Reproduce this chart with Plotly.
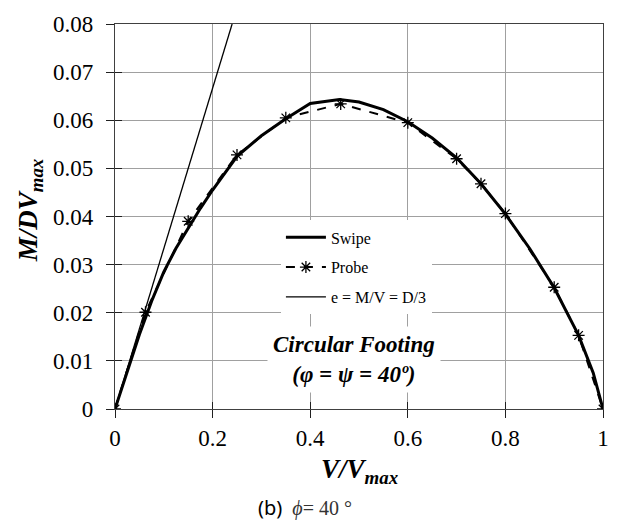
import plotly.graph_objects as go

# Swipe curve
swipe_x = [0, 0.025, 0.05, 0.075, 0.1, 0.125, 0.15, 0.175, 0.2, 0.25, 0.3, 0.35, 0.4,
           0.46, 0.5, 0.55, 0.6, 0.65, 0.7, 0.75, 0.8, 0.85, 0.9, 0.95, 0.98, 1.0]
swipe_y = [0, 0.0078, 0.0155, 0.0224, 0.0285, 0.0334, 0.0375, 0.0417, 0.0455, 0.0525,
           0.0568, 0.0603, 0.0635, 0.0643, 0.0638, 0.0622, 0.0597, 0.0563, 0.0522,
           0.0468, 0.0405, 0.0333, 0.0252, 0.0153, 0.0075, 0]

# Probe points
probe_x = [0, 0.0625, 0.15, 0.25, 0.35, 0.4625, 0.6, 0.7, 0.75, 0.8, 0.9, 0.95, 1.0]
probe_y = [0, 0.0201, 0.039, 0.0528, 0.0605, 0.0634, 0.0595, 0.052, 0.0468, 0.0406,
           0.0253, 0.0153, 0]

# e = M/V = D/3 line
ecc_x = [0, 0.24]
ecc_y = [0, 0.08]

x_ticks = [0, 0.2, 0.4, 0.6, 0.8, 1]
x_labels = ["0", "0.2", "0.4", "0.6", "0.8", "1"]
y_ticks = [0, 0.01, 0.02, 0.03, 0.04, 0.05, 0.06, 0.07, 0.08]
y_labels = ["0", "0.01", "0.02", "0.03", "0.04", "0.05", "0.06", "0.07", "0.08"]

SERIF = "Liberation Serif"

fig = go.Figure()
fig.add_trace(go.Scatter(x=swipe_x, y=swipe_y, mode="lines", name="Swipe",
                         legendgroup="a",
                         line=dict(color="black", width=3)))
fig.add_trace(go.Scatter(x=probe_x, y=probe_y, mode="lines+markers", name="Probe",
                         legendgroup="b",
                         line=dict(color="black", width=2, dash="dash"),
                         marker=dict(symbol="asterisk-open", size=10,
                                     line=dict(color="black", width=1.3))))
fig.add_trace(go.Scatter(x=ecc_x, y=ecc_y, mode="lines", name="e = M/V = D/3",
                         legendgroup="c",
                         line=dict(color="black", width=1.3)))

# overlay axes for inward tick halves
fig.add_trace(go.Scatter(x=[0], y=[0], xaxis="x2", yaxis="y2", mode="markers",
                         marker=dict(opacity=0), showlegend=False, hoverinfo="skip"))

fig.update_layout(
    width=621, height=527,
    margin=dict(l=115, r=16, t=23, b=118),
    paper_bgcolor="white", plot_bgcolor="white",
    font=dict(family=SERIF, color="black"),
    showlegend=True,
    legend=dict(x=0.34, y=0.49, xanchor="left", yanchor="top",
                bgcolor="white", font=dict(family=SERIF, size=16, color="black"),
                tracegroupgap=6, itemwidth=40),
    xaxis=dict(range=[0, 1], tickvals=x_ticks, ticktext=x_labels,
               showgrid=True, gridcolor="#a0a0a0", gridwidth=1,
               showline=True, linecolor="#404040", linewidth=1.2, mirror=True,
               ticks="outside", ticklen=8, tickcolor="#202020",
               tickfont=dict(family=SERIF, size=23, color="black"),
               zeroline=False, fixedrange=True),
    yaxis=dict(range=[0, 0.08], tickvals=y_ticks, ticktext=y_labels,
               showgrid=True, gridcolor="#a0a0a0", gridwidth=1,
               showline=True, linecolor="#404040", linewidth=1.2, mirror=True,
               ticks="outside", ticklen=8, tickcolor="#202020",
               ticklabelstandoff=8,
               tickfont=dict(family=SERIF, size=23, color="black"),
               zeroline=False, fixedrange=True),
    xaxis2=dict(range=[0, 1], overlaying="x", tickvals=x_ticks, showticklabels=False,
                showgrid=False, ticks="inside", ticklen=7, tickcolor="#202020",
                zeroline=False, showline=False),
    yaxis2=dict(range=[0, 0.08], overlaying="y", tickvals=y_ticks, showticklabels=False,
                showgrid=False, ticks="inside", ticklen=7, tickcolor="#202020",
                zeroline=False, showline=False),
)

fig.add_annotation(x=0.49, y=0.0103, xref="x", yref="y",
                   text="<b><i>Circular Footing<br>(φ = ψ = 40º)</i></b>",
                   showarrow=False, bgcolor="white",
                   font=dict(family=SERIF, size=23, color="black"), borderpad=5)

fig.add_annotation(x=0.5, y=-0.16, xref="paper", yref="paper",
                   xanchor="center", yanchor="middle",
                   text="<b><i>V/V<sub>max</sub></i></b>", showarrow=False,
                   font=dict(family=SERIF, size=27, color="black"))

fig.add_annotation(x=-0.175, y=0.515, xref="paper", yref="paper", textangle=-90,
                   xanchor="center", yanchor="middle",
                   text="<b><i>M/DV<sub>max</sub></i></b>", showarrow=False,
                   font=dict(family=SERIF, size=27, color="black"))

fig.add_annotation(x=0.39, y=-0.255, xref="paper", yref="paper",
                   xanchor="center", yanchor="middle",
                   text="<span style='font-family:Noto Sans;font-size:20px;fill:#000000'>(b)</span>"
                        "  <i>ϕ</i>= 40 °",
                   showarrow=False,
                   font=dict(family=SERIF, size=20, color="#333333"))

fig.write_html("out.html")
